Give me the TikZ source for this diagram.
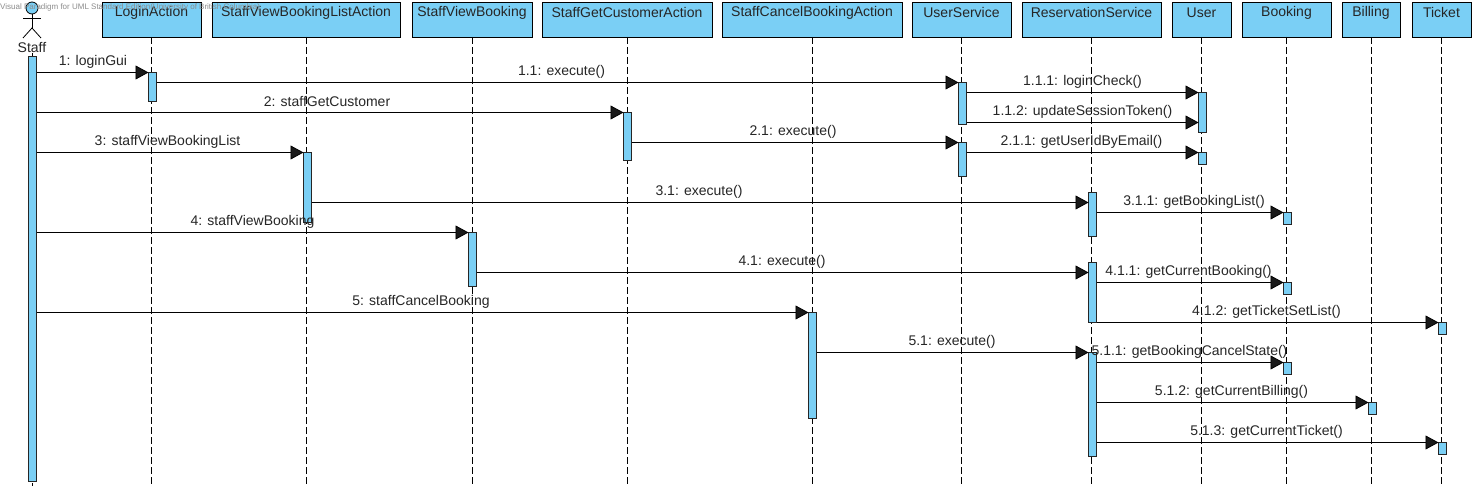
\documentclass[tikz,border=0pt]{standalone}
\usepackage{fontspec}
\setmainfont{Liberation Sans}
\usetikzlibrary{arrows.meta,calc}
\definecolor{vpblue}{HTML}{7ACFF5}
\definecolor{wm}{HTML}{8C8C8C}
\tikzset{
  x=1pt,y=-1pt,
  headbox/.style={draw=black,line width=0.8pt,fill=vpblue,minimum height=35pt,anchor=north west,inner sep=0pt,outer sep=0pt},
  headtext/.style={font=\fontsize{14}{14}\selectfont,text=black!85,anchor=center,inner sep=0pt},
  lifeline/.style={draw=black,line width=0.8pt,dash pattern=on 7pt off 3pt},
  bar/.style={draw=black!85,line width=0.8pt,fill=vpblue,minimum width=8pt,anchor=north west,inner sep=0pt,outer sep=0pt},
  msg/.style={draw=black,line width=0.8pt,-{Triangle[length=13pt,width=14pt,fill=black!90]}},
  msgtext/.style={font=\fontsize{14}{14}\selectfont,text=black!85,anchor=center,inner sep=0pt},
  actorline/.style={draw=black,line width=0.8pt},
}
\begin{document}
\begin{tikzpicture}
\useasboundingbox (0,0) rectangle (1476,486);
\fill[white] (0,0) rectangle (1476,486);
% heads
\node[headbox,minimum width=99pt] (login) at (102,2) {};
\node[headbox,minimum width=188pt] (svbl) at (212,2) {};
\node[headbox,minimum width=120pt] (svb) at (412,2) {};
\node[headbox,minimum width=170pt] (sgc) at (542,2) {};
\node[headbox,minimum width=180pt] (scb) at (722,2) {};
\node[headbox,minimum width=99pt] (us) at (912,2) {};
\node[headbox,minimum width=139pt] (rs) at (1022,2) {};
\node[headbox,minimum width=59pt] (user) at (1172,2) {};
\node[headbox,minimum width=89pt] (booking) at (1242,2) {};
\node[headbox,minimum width=58pt] (billing) at (1342,2) {};
\node[headbox,minimum width=59pt] (ticket) at (1412,2) {};
\foreach \n/\t in {login/LoginAction,svbl/StaffViewBookingListAction,svb/StaffViewBooking,sgc/StaffGetCustomerAction,scb/StaffCancelBookingAction,us/UserService,rs/ReservationService,user/User,booking/Booking,billing/Billing,ticket/Ticket}{
  \node[headtext] (\n t) at ($(\n.north)+(0,10.5)$) {\t};
}
% actor
\node[circle,draw=black,line width=0.8pt,fill=vpblue,minimum size=12pt,inner sep=0pt] (staffhead) at (32,8) {};
\coordinate (staffhip) at (32,28);
\coordinate (armL) at (23,18);
\coordinate (armR) at (41,18);
\coordinate (legL) at (23,38);
\coordinate (legR) at (41,38);
\draw[actorline] (staffhead.south) -- (staffhip);
\draw[actorline] (armL) -- (armR);
\draw[actorline] (legL) -- (staffhip) -- (legR);
\node[headtext] (stafflabel) at (32,47.5) {Staff};
% lifeline ends
\foreach \n/\x in {login/151,svbl/306,svb/472,sgc/627,scb/812,us/961,rs/1091,user/1201,booking/1286,billing/1371,ticket/1441}{
  \coordinate (\n end) at (\x,486);
  \draw[lifeline] (\n.south -| \n end) -- (\n end);
}
\coordinate (staffend) at (32,486);
\draw[lifeline] (stafflabel.south) -- (staffend);
% activation bars
\node[bar,minimum height=425pt] (staffbar) at (28.5,56.5) {};
\node[bar,minimum height=29pt] (login1) at (148.5,72.5) {};
\node[bar,minimum height=70pt] (svbl1) at (303.5,152.5) {};
\node[bar,minimum height=54pt] (svb1) at (468.5,232.5) {};
\node[bar,minimum height=48pt] (sgc1) at (623.5,112.5) {};
\node[bar,minimum height=106pt] (scb1) at (808.5,312.5) {};
\node[bar,minimum height=42pt] (us1) at (958.5,82.5) {};
\node[bar,minimum height=34pt] (us2) at (958.5,142.5) {};
\node[bar,minimum height=44pt] (rs1) at (1088.5,192.5) {};
\node[bar,minimum height=60pt] (rs2) at (1088.5,262.5) {};
\node[bar,minimum height=104pt] (rs3) at (1088.5,352.5) {};
\node[bar,minimum height=40pt] (user1) at (1198.5,92.5) {};
\node[bar,minimum height=12pt] (user2) at (1198.5,152.5) {};
\node[bar,minimum height=12pt] (booking1) at (1283.5,212.5) {};
\node[bar,minimum height=12pt] (booking2) at (1283.5,282.5) {};
\node[bar,minimum height=12pt] (booking3) at (1283.5,362.5) {};
\node[bar,minimum height=12pt] (billing1) at (1368.5,402.5) {};
\node[bar,minimum height=12pt] (ticket1) at (1438.5,322.5) {};
\node[bar,minimum height=12pt] (ticket2) at (1438.5,442.5) {};
% messages: from source bar to the top of target bar
\foreach \s/\t in {staffbar/login1,login1/us1,staffbar/sgc1,sgc1/us2,staffbar/svbl1,staffbar/svb1,staffbar/scb1,scb1/rs3,us1/user1,us2/user2,rs1/booking1,rs2/booking2,rs2/ticket1,rs3/booking3,rs3/billing1,rs3/ticket2}{
  \draw[msg] (\s.east |- \t.north west) -- (\t.north west);
}
\coordinate (m112) at (1198.5,122.5);
\draw[msg] (us1.east |- m112) -- (m112);
\coordinate (m31) at (1088.5,202.5);
\draw[msg] (svbl1.east |- m31) -- (m31);
\coordinate (m41) at (1088.5,272.5);
\draw[msg] (svb1.east |- m41) -- (m41);
% labels
\foreach \n/\x/\y/\t in {
 l1/93/61.5/{1: loginGui},
 l11/561.5/71.5/{1.1: execute()},
 l2/327/101.5/{2: staffGetCustomer},
 l21/793/131.5/{2.1: execute()},
 l3/167.5/141.5/{3: staffViewBookingList},
 l31/699/191.5/{3.1: execute()},
 l4/252.5/221.5/{4: staffViewBooking},
 l41/782/261.5/{4.1: execute()},
 l5/421/301.5/{5: staffCancelBooking},
 l51/952/341.5/{5.1: execute()},
 l111/1082.5/81.5/{1.1.1: loginCheck()},
 l112/1082.5/111.5/{1.1.2: updateSessionToken()},
 l211/1081.5/141.5/{2.1.1: getUserIdByEmail()},
 l311/1194/201.5/{3.1.1: getBookingList()},
 l411/1188.5/271.5/{4.1.1: getCurrentBooking()},
 l412/1266.5/311.5/{4.1.2: getTicketSetList()},
 l511/1189.5/351.5/{5.1.1: getBookingCancelState()},
 l512/1231.5/391.5/{5.1.2: getCurrentBilling()},
 l513/1266.5/431.5/{5.1.3: getCurrentTicket()}}{
  \node[msgtext] (\n) at (\x,\y) {\t};
}
% watermark
\node[font=\fontsize{8}{8}\selectfont,text=wm,anchor=west,inner sep=0pt] (watermark) at (0,7) {Visual Paradigm for UML Standard Edition(University of British Columbia)};
\end{tikzpicture}
\end{document}
